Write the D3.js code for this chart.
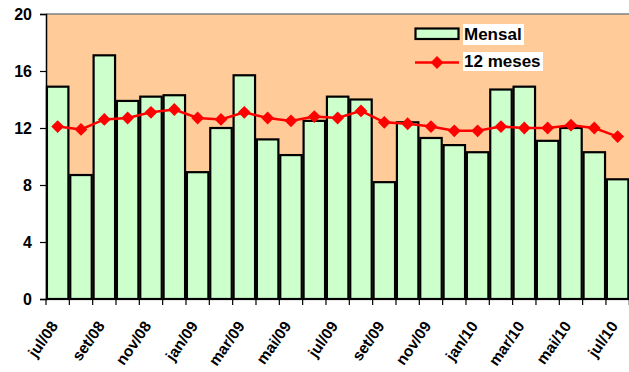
<!DOCTYPE html>
<html>
<head>
<meta charset="utf-8">
<script src="https://cdn.jsdelivr.net/npm/d3@7/dist/d3.min.js"></script>
<style>
  html, body { margin: 0; padding: 0; background: #fff; }
  svg { display: block; }
  text { font-family: "Liberation Sans", Arial, sans-serif; font-weight: bold; fill: #000; }
</style>
</head>
<body>
<svg id="chart" width="629" height="372"></svg>
<script>
// Months, jul/08 to jul/10
const months = ["jul/08","ago/08","set/08","out/08","nov/08","dez/08",
  "jan/09","fev/09","mar/09","abr/09","mai/09","jun/09",
  "jul/09","ago/09","set/09","out/09","nov/09","dez/09",
  "jan/10","fev/10","mar/10","abr/10","mai/10","jun/10","jul/10"];

// Monthly values (bars)
const mensal = [14.9, 8.7, 17.1, 13.9, 14.2, 14.3,
  8.9, 12.0, 15.7, 11.2, 10.1, 12.5,
  14.2, 14.0, 8.2, 12.4, 11.3, 10.8,
  10.3, 14.7, 14.9, 11.1, 12.0, 10.3, 8.4];

// 12-month accumulated values (line)
const meses12 = [12.1, 11.9, 12.6, 12.7, 13.1, 13.3,
  12.7, 12.6, 13.1, 12.7, 12.5, 12.8,
  12.7, 13.2, 12.4, 12.3, 12.1, 11.8,
  11.8, 12.1, 12.0, 12.0, 12.2, 12.0, 11.4];

const yTicks = [0, 4, 8, 12, 16, 20];
const seriesNames = ["Mensal", "12 meses"];

const svg = d3.select("#chart");
const pLeft = 46, pRight = 629.3, pTop = 14, pBottom = 299;

const x = d3.scaleBand().domain(months).range([pLeft, pRight])
  .paddingInner(0.08).paddingOuter(0.04);
const step = x.step();
const y = d3.scaleLinear().domain([0, 20]).range([pBottom, pTop]);

// plot background
svg.append("rect")
  .attr("x", pLeft).attr("y", pTop)
  .attr("width", pRight - pLeft).attr("height", pBottom - pTop)
  .attr("fill", "#FFCC99");

// top border of plot area
svg.append("line")
  .attr("x1", pLeft).attr("x2", pRight)
  .attr("y1", pTop).attr("y2", pTop)
  .attr("stroke", "#808080").attr("stroke-width", 1.5);

// bars
svg.append("g").selectAll("rect").data(mensal).join("rect")
  .attr("x", (d, i) => x(months[i]))
  .attr("y", d => y(d))
  .attr("width", x.bandwidth())
  .attr("height", d => pBottom - y(d))
  .attr("fill", "#CCFFCC")
  .attr("stroke", "#000")
  .attr("stroke-width", 2.2);

// y axis
const yAxis = d3.axisLeft(y).tickValues(yTicks).tickSize(6).tickPadding(8);
const gy = svg.append("g").attr("transform", `translate(${pLeft},0)`).call(yAxis);
gy.select(".domain").attr("stroke", "#000").attr("stroke-width", 1.5);
gy.selectAll(".tick line").attr("stroke", "#000").attr("stroke-width", 1.2);
gy.selectAll(".tick text")
  .attr("font-family", "Liberation Sans, Arial, sans-serif")
  .attr("font-weight", "bold").attr("font-size", 16).attr("fill", "#000");

// x axis: ticks at category boundaries
const boundaries = d3.range(months.length + 1).map(i => pLeft + i * step);
svg.append("line")
  .attr("x1", pLeft).attr("x2", pRight)
  .attr("y1", pBottom).attr("y2", pBottom)
  .attr("stroke", "#000").attr("stroke-width", 1.5);
svg.append("g").selectAll("line").data(boundaries).join("line")
  .attr("x1", d => d).attr("x2", d => d)
  .attr("y1", pBottom).attr("y2", pBottom + 6)
  .attr("stroke", "#000").attr("stroke-width", 1.2);

// x labels, every other month, rotated
svg.append("g").selectAll("text")
  .data(months.filter((m, i) => i % 2 === 0)).join("text")
  .attr("transform", d => `translate(${x(d) + x.bandwidth() / 2 + 1},326) rotate(-55)`)
  .attr("text-anchor", "end")
  .attr("font-size", 15.5)
  .text(d => d);

// 12-month line
const cx = (d, i) => x(months[i]) + x.bandwidth() / 2;
svg.append("path")
  .datum(meses12)
  .attr("fill", "none").attr("stroke", "#FF0000").attr("stroke-width", 2.5)
  .attr("d", d3.line().x(cx).y(d => y(d)));

svg.append("g").selectAll("path").data(meses12).join("path")
  .attr("transform", (d, i) => `translate(${cx(d, i)},${y(d)}) rotate(45)`)
  .attr("d", d3.symbol().type(d3.symbolSquare).size(82))
  .attr("fill", "#FF0000");

// legend
const lg = svg.append("g");
lg.append("rect").attr("x", 463).attr("y", 24).attr("width", 61).attr("height", 21).attr("fill", "#fff");
lg.append("rect").attr("x", 463).attr("y", 52).attr("width", 80).attr("height", 19).attr("fill", "#fff");
lg.append("rect").attr("x", 415.5).attr("y", 28.5).attr("width", 43).attr("height", 10.5)
  .attr("fill", "#CCFFCC").attr("stroke", "#000").attr("stroke-width", 2.2);
lg.append("line").attr("x1", 415).attr("x2", 459).attr("y1", 62.5).attr("y2", 62.5)
  .attr("stroke", "#FF0000").attr("stroke-width", 2.5);
lg.append("path").attr("transform", "translate(437,62.5) rotate(45)")
  .attr("d", d3.symbol().type(d3.symbolSquare).size(82)).attr("fill", "#FF0000");
lg.selectAll("text.lbl").data(seriesNames).join("text")
  .attr("class", "lbl")
  .attr("x", 464).attr("y", (d, i) => i === 0 ? 40 : 67)
  .attr("font-size", 17)
  .text(d => d);
</script>
</body>
</html>
